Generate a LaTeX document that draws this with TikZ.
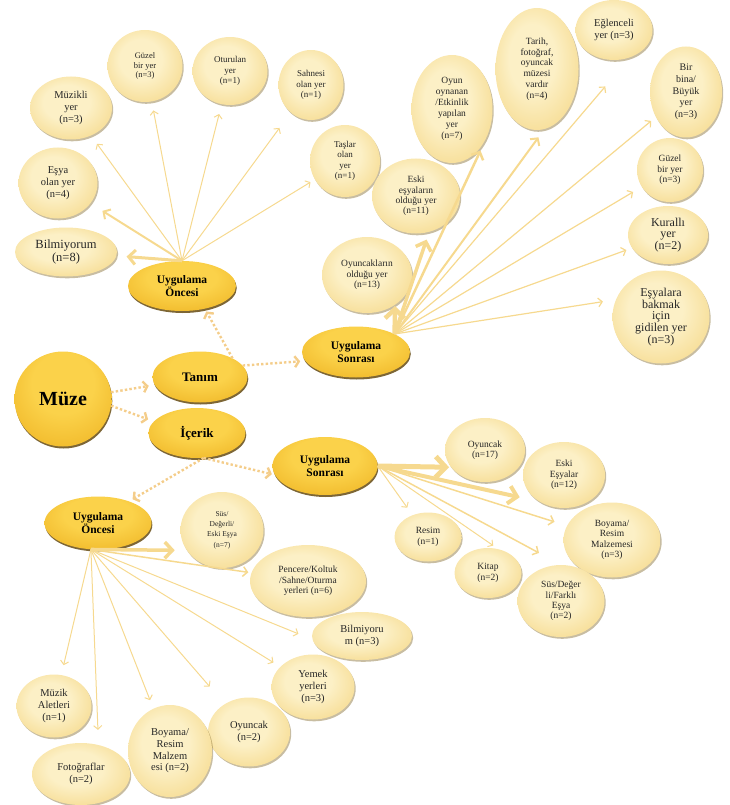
\documentclass[tikz,border=0pt]{standalone}
\usepackage{fontspec}
\setmainfont{Liberation Serif}
\usetikzlibrary{arrows.meta, shapes, shadows}
\definecolor{gold1a}{HTML}{FCF0C6}
\definecolor{gold2a}{HTML}{F0C65A}
\definecolor{gold3a}{HTML}{FBD24A}
\definecolor{gold4a}{HTML}{E6A00A}
\definecolor{gold5a}{HTML}{F6D98F}
\definecolor{gold6a}{HTML}{F4CD8A}
\pgfdeclareradialshading{leafshade}{\pgfpoint{-4bp}{6bp}}{color(0bp)=(gold1a); color(14bp)=(gold1a); color(50bp)=(gold2a)}
\pgfdeclareradialshading{hubshade}{\pgfpoint{0bp}{12bp}}{color(0bp)=(gold3a); color(16bp)=(gold3a); color(50bp)=(gold4a)}

\begin{document}
\begin{tikzpicture}[x=1pt, y=-1pt, line join=round,
	leaf/.style={ellipse, inner sep=0pt, shading=leafshade, align=center, text=black!85, font=\fontsize{9}{10.5}\selectfont, drop shadow={shadow xshift=1.2pt, shadow yshift=-1.8pt, fill=black!45!gold2a, opacity=0.45}},
	bigleaf/.style={leaf, font=\fontsize{10.5}{11.7}\selectfont},
	hub/.style={ellipse, inner sep=0pt, shading=hubshade, align=center, font=\bfseries\fontsize{11.5}{12.5}\selectfont, drop shadow={shadow xshift=0.8pt, shadow yshift=-2pt, fill=black!60!gold4a, opacity=0.8}},
	fan/.style={draw=gold5a, line width=#1, -{Straight Barb[length=2pt 1.6, width=5pt 3.2]}},
	link/.style={draw=gold6a, line width=2.4pt, dash pattern=on 2.4pt off 2.2pt, -{Straight Barb[length=4pt, width=11pt]}}]
	\useasboundingbox (0,0) rectangle (729,805);
	% main nodes
	\node[hub, minimum width=97, minimum height=95, font=\bfseries\fontsize{20}{21}\selectfont] (mz) at (63,399) {Müze};
	\node[hub, minimum width=95, minimum height=51, font=\bfseries\fontsize{13}{14}\selectfont] (tn) at (200,377) {Tanım};
	\node[hub, minimum width=97, minimum height=50, font=\bfseries\fontsize{13}{14}\selectfont] (ic) at (197,433) {İçerik};
	\node[hub, minimum width=108, minimum height=50] (uo1) at (182,286) {Uygulama\\Öncesi};
	\node[hub, minimum width=108, minimum height=51] (us1) at (356,352) {Uygulama\\Sonrası};
	\node[hub, minimum width=105, minimum height=58] (us2) at (325,466) {Uygulama\\Sonrası};
	\node[hub, minimum width=107, minimum height=53] (uo2) at (98,523) {Uygulama\\Öncesi};
	% tanim - oncesi
	\node[leaf, minimum width=102, minimum height=49, font=\fontsize{12.5}{13}\selectfont] (obil) at (66,252) {Bilmiyorum\\(n=8)};
	\node[bigleaf, minimum width=79, minimum height=71] (oesya) at (58,183) {Eşya\\olan yer\\(n=4)};
	\node[bigleaf, minimum width=82, minimum height=63] (omuz) at (71,108) {Müzikli\\yer\\(n=3)};
	\node[leaf, minimum width=75, minimum height=72, font=\fontsize{8.5}{9.5}\selectfont] (oguz) at (145,66) {Güzel\\bir yer\\(n=3)};
	\node[leaf, minimum width=75, minimum height=68] (ootu) at (230,71) {Oturulan\\yer\\(n=1)};
	\node[leaf, minimum width=65, minimum height=70] (osah) at (311,85) {Sahnesi\\olan yer\\(n=1)};
	\node[leaf, minimum width=70, minimum height=72] (otas) at (345,161) {Taşlar\\olan\\yer\\(n=1)};
	% tanim - sonrasi
	\node[leaf, minimum width=90, minimum height=76, font=\fontsize{9.5}{10.3}\selectfont] (soyu) at (367,275) {Oyuncakların\\olduğu yer\\(n=13)};
	\node[leaf, minimum width=88, minimum height=75, font=\fontsize{9.5}{10.3}\selectfont] (seski) at (416,196) {Eski\\eşyaların\\olduğu yer\\(n=11)};
	\node[leaf, minimum width=81, minimum height=108, font=\fontsize{9.5}{11}\selectfont] (soyun) at (452,109) {Oyun\\oynanan\\/Etkinlik\\yapılan\\yer\\(n=7)};
	\node[leaf, minimum width=83, minimum height=122, font=\fontsize{9.5}{10.8}\selectfont] (starih) at (537,69) {Tarih,\\fotoğraf,\\oyuncak\\müzesi\\vardır\\(n=4)};
	\node[leaf, minimum width=77, minimum height=60, font=\fontsize{10.5}{12}\selectfont] (segl) at (614,30) {Eğlenceli\\yer (n=3)};
	\node[leaf, minimum width=72, minimum height=91, font=\fontsize{10}{11.7}\selectfont] (sbina) at (686,92) {Bir\\bina/\\Büyük\\yer\\(n=3)};
	\node[leaf, minimum width=66, minimum height=64, font=\fontsize{9.5}{10.5}\selectfont] (sguz) at (670,170) {Güzel\\bir yer\\(n=3)};
	\node[leaf, minimum width=80, minimum height=58, font=\fontsize{12}{11.7}\selectfont] (skur) at (668,235) {Kurallı\\yer\\(n=2)};
	\node[leaf, minimum width=97, minimum height=93, font=\fontsize{12}{11.7}\selectfont] (sesya) at (661,317) {Eşyalara\\bakmak\\için\\gidilen yer\\(n=3)};
	% icerik - sonrasi
	\node[leaf, minimum width=80, minimum height=64, font=\fontsize{9.5}{10}\selectfont] (coyu) at (485,450) {Oyuncak\\(n=17)};
	\node[leaf, minimum width=82, minimum height=66, font=\fontsize{9.5}{10.3}\selectfont] (ceski) at (564,475) {Eski\\Eşyalar\\(n=12)};
	\node[leaf, minimum width=97, minimum height=75, font=\fontsize{9.5}{10.3}\selectfont] (cboy) at (612,540) {Boyama/\\Resim\\Malzemesi\\(n=3)};
	\node[leaf, minimum width=67, minimum height=49, font=\fontsize{9.5}{10.3}\selectfont] (cres) at (428,537) {Resim\\(n=1)};
	\node[leaf, minimum width=67, minimum height=50, font=\fontsize{9.5}{10.3}\selectfont] (ckit) at (488,573) {Kitap\\(n=2)};
	\node[leaf, minimum width=87, minimum height=72, font=\fontsize{9.5}{10.3}\selectfont] (csus) at (561,601) {Süs/Değer\\li/Farklı\\Eşya\\(n=2)};
	% icerik - oncesi
	\node[leaf, minimum width=83, minimum height=76, font=\fontsize{7.5}{10.3}\selectfont] (dsus) at (222,530) {Süs/\\Değerli/\\Eski Eşya\\(n=7)};
	\node[leaf, minimum width=116, minimum height=72, font=\fontsize{9.5}{10.5}\selectfont] (dpen) at (308,581) {Pencere/Koltuk\\/Sahne/Oturma\\yerleri (n=6)};
	\node[bigleaf, minimum width=100, minimum height=48] (dbil) at (362,636) {Bilmiyoru\\m (n=3)};
	\node[bigleaf, minimum width=83, minimum height=65] (dyem) at (313,687) {Yemek\\yerleri\\(n=3)};
	\node[bigleaf, minimum width=82, minimum height=69] (doyu) at (249,732) {Oyuncak\\(n=2)};
	\node[bigleaf, minimum width=84, minimum height=92] (dboy) at (170,751) {Boyama/\\Resim\\Malzem\\esi (n=2)};
	\node[bigleaf, minimum width=98, minimum height=62] (dfot) at (81,774) {Fotoğraflar\\(n=2)};
	\node[bigleaf, minimum width=75, minimum height=63] (dmuz) at (54,706) {Müzik\\Aletleri\\(n=1)};
	% dotted links
	\draw[link, shorten >=6pt] (mz.8) -- (tn.190);
	\draw[link, shorten >=6pt] (mz.-8) -- (ic.165);
	\draw[link, shorten >=3pt] (tn.30) -- (uo1.-45);
	\draw[link, shorten >=5pt] (tn.15) -- (us1.190);
	\draw[link, shorten >=3pt] (ic.-75) -- (us2.190);
	\draw[link, shorten >=4pt] (ic.-75) -- (uo2.35);
	% fans
	\draw[fan=3pt, shorten >=10pt] (uo1.north) -- (obil);
	\draw[fan=2pt, shorten >=14pt] (uo1.north) -- (oesya);
	\draw[fan=1pt, shorten >=10pt] (uo1.north) -- (omuz);
	\draw[fan=1pt, shorten >=9pt] (uo1.north) -- (oguz);
	\draw[fan=1pt, shorten >=10pt] (uo1.north) -- (ootu);
	\draw[fan=1pt, shorten >=19pt] (uo1.north) -- (osah);
	\draw[fan=1pt, shorten >=5pt] (uo1.north) -- (otas);
	\draw[fan=4.5pt, shorten >=1pt] (us1.25) -- (soyu.-47);
	\draw[fan=3.5pt, shorten >=8pt] (us1.25) -- (seski.-70);
	\draw[fan=2.5pt, shorten >=14pt] (us1.25) -- (soyun.-40);
	\draw[fan=2pt, shorten >=10pt] (us1.25) -- (starih.-83);
	\draw[fan=1.2pt, shorten >=38pt] (us1.25) -- (segl.-60);
	\draw[fan=1.2pt, shorten >=6pt] (us1.25) -- (sbina);
	\draw[fan=1.2pt, shorten >=10pt] (us1.25) -- (sguz);
	\draw[fan=1.2pt, shorten >=6pt] (us1.25) -- (skur);
	\draw[fan=1.2pt, shorten >=13pt] (us1.25) -- (sesya.159);
	\draw[fan=5pt, shorten >=2pt] (us2.east) -- (coyu.207);
	\draw[fan=4pt, shorten >=20pt] (us2.east) -- (ceski.227);
	\draw[fan=1.5pt, shorten >=13pt] (us2.east) -- (cboy);
	\draw[fan=1pt, shorten >=9pt] (us2.east) -- (cres);
	\draw[fan=1pt, shorten >=6pt] (us2.east) -- (ckit.67);
	\draw[fan=1.5pt, shorten >=25pt] (us2.east) -- (csus.north);
	\draw[fan=3.5pt, shorten >=12pt] (uo2.255) -- (dsus.210);
	\draw[fan=1.5pt, shorten >=3pt] (uo2.255) -- (dpen);
	\draw[fan=1pt, shorten >=15pt] (uo2.255) -- (dbil.184);
	\draw[fan=1pt, shorten >=8pt] (uo2.255) -- (dyem);
	\draw[fan=1pt, shorten >=23pt] (uo2.255) -- (doyu);
	\draw[fan=1pt, shorten >=9pt] (uo2.255) -- (dboy);
	\draw[fan=1pt, shorten >=15pt] (uo2.255) -- (dfot.59);
	\draw[fan=1pt, shorten >=10pt] (uo2.255) -- (dmuz);
\end{tikzpicture}
\end{document}
